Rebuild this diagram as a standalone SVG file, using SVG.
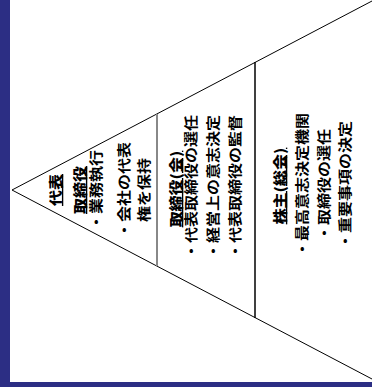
<svg xmlns="http://www.w3.org/2000/svg" width="372" height="387" viewBox="0 0 372 387">
<style>
.t{font-family:"Noto Sans CJK JP","Noto Sans CJK SC",sans-serif;font-size:16px;font-weight:bold;fill:#000;text-anchor:middle}
.h{font-weight:900;text-decoration:underline}
.ln{stroke:#000;stroke-width:1;fill:none}
</style>
<rect x="0" y="0" width="372" height="387" fill="#fff"/>
<rect x="0" y="0" width="10" height="387" fill="#2c2e84"/>
<rect x="0" y="382" width="372" height="5" fill="#2c2e84"/>
<g id="connectors">
<polyline class="ln" points="372,1 12,190 372,379"/>
<line x1="157" y1="114" x2="157" y2="266" stroke="#888" stroke-width="2"/>
<line x1="255" y1="62" x2="255" y2="318" stroke="#000" stroke-width="1.5"/>
</g>
<g id="node-daihyo">
<text class="t h" transform="translate(61,190) rotate(-90) scale(1,0.85)">代表</text>
<text class="t h" transform="translate(85,190) rotate(-90) scale(1,0.85)">取締役</text>
<text class="t" transform="translate(101,190) rotate(-90) scale(1,0.85)">・業務執行</text>
<text class="t" transform="translate(129,190) rotate(-90) scale(1,0.85)">・会社の代表</text>
<text class="t" transform="translate(149,190) rotate(-90) scale(1,0.85)">権を保持</text>
</g>
<g id="node-torishimariyaku">
<text class="t h" transform="translate(181,189) rotate(-90) scale(1,0.85)">取締役(会)</text>
<text class="t" transform="translate(196,187) rotate(-90) scale(1,0.85)">・代表取締役の選任</text>
<text class="t" transform="translate(218,187) rotate(-90) scale(1,0.85)">・経営上の意志決定</text>
<text class="t" transform="translate(240,187) rotate(-90) scale(1,0.85)">・代表取締役の監督</text>
</g>
<g id="node-kabunushi">
<text class="t h" transform="translate(285,186) rotate(-90) scale(1,0.85)">株主(総会)</text>
<text class="t" transform="translate(307,185) rotate(-90) scale(1,0.85)">・最高意志決定機関</text>
<text class="t" transform="translate(329,185) rotate(-90) scale(1,0.85)">・取締役の選任</text>
<text class="t" transform="translate(350,185) rotate(-90) scale(1,0.85)">・重要事項の決定</text>
</g>
</svg>
